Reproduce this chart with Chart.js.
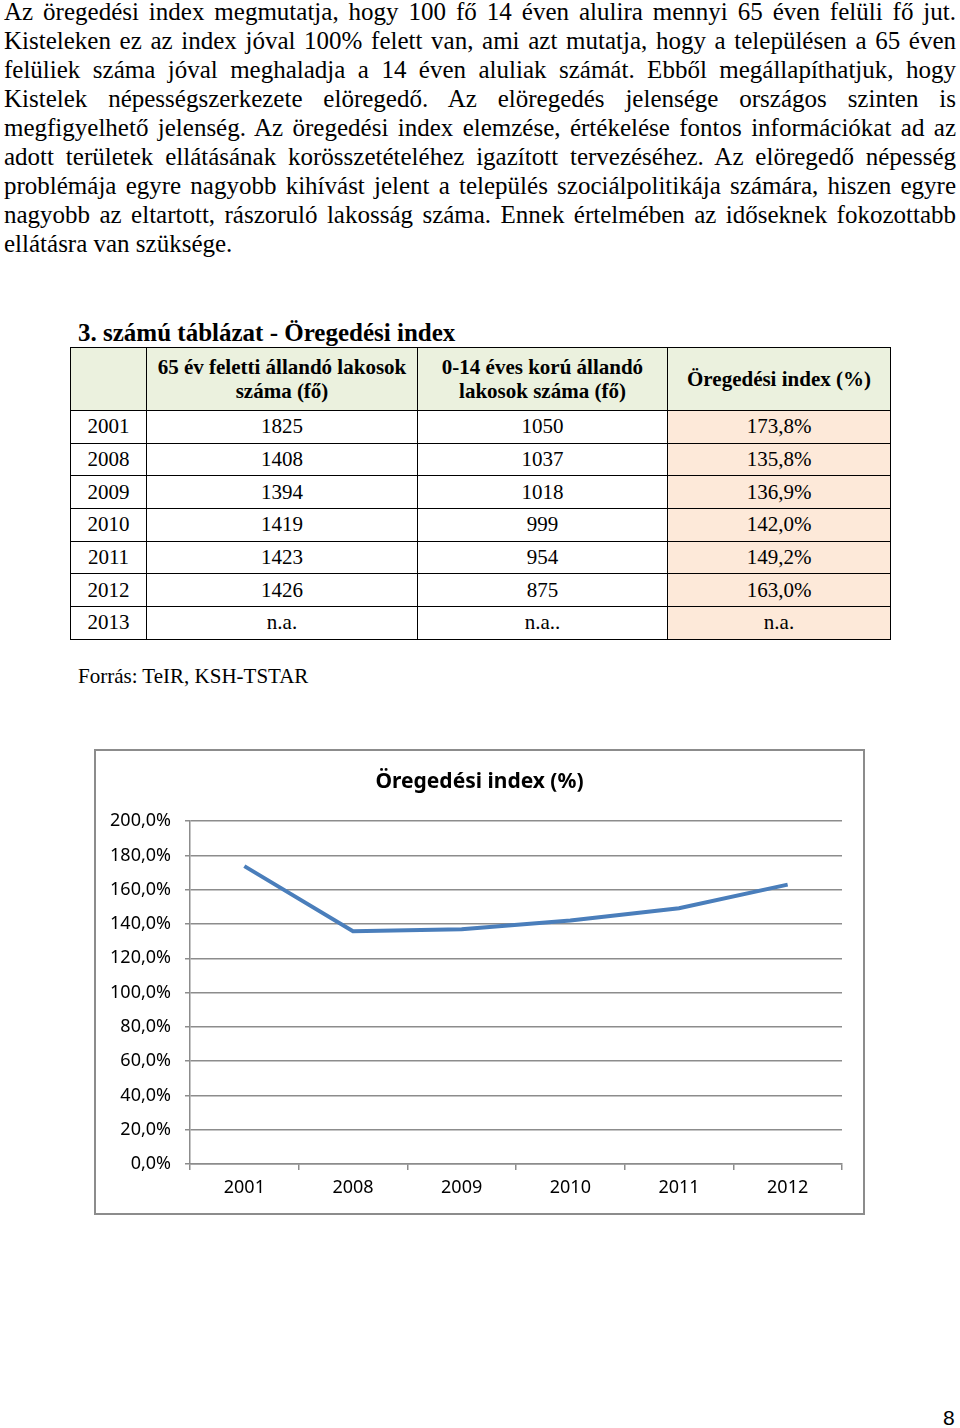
<!DOCTYPE html>
<html lang="hu">
<head>
<meta charset="utf-8">
<script src="https://cdn.jsdelivr.net/npm/chart.js@4.4.1/dist/chart.umd.min.js"></script>
<style>
  html, body { margin: 0; padding: 0; background: #fff; }
  body { width: 960px; height: 1428px; position: relative; overflow: hidden; font-family: "Liberation Serif", "Times New Roman", serif; color: #000; }
  .para { position: absolute; left: 4px; top: -3px; width: 952px; font-size: 25px; line-height: 29px; }
  .para div { text-align: justify; text-align-last: justify; }
  .para div.last { text-align-last: left; }
  .caption { position: absolute; left: 78px; top: 318px; font-size: 25px; font-weight: bold; line-height: 29px; }
  table { position: absolute; left: 70px; top: 347px; border-collapse: collapse; font-size: 21px; }
  td, th { border: 1px solid #000; text-align: center; vertical-align: middle; padding: 0; }
  th { background: #ebf1de; font-weight: bold; height: 62px; line-height: 24px; }
  td { height: 31.7px; }
  td.idx { background: #fde9d9; }
  .source { position: absolute; left: 78px; top: 662px; font-size: 21px; line-height: 28px; }
  .chartbox { position: absolute; left: 94px; top: 749px; width: 767px; height: 462px; border: 2px solid #8c8c8c; }
  .pagenum { position: absolute; left: 943px; top: 1406px; font-family: "Liberation Sans", Arial, sans-serif; font-size: 21px; }
</style>
</head>
<body>
<div class="para">
  <div>Az öregedési index megmutatja, hogy 100 fő 14 éven alulira mennyi 65 éven felüli fő jut.</div>
  <div>Kisteleken ez az index jóval 100% felett van, ami azt mutatja, hogy a településen a 65 éven</div>
  <div>felüliek száma jóval meghaladja a 14 éven aluliak számát. Ebből megállapíthatjuk, hogy</div>
  <div>Kistelek népességszerkezete elöregedő. Az elöregedés jelensége országos szinten is</div>
  <div>megfigyelhető jelenség. Az öregedési index elemzése, értékelése fontos információkat ad az</div>
  <div>adott területek ellátásának korösszetételéhez igazított tervezéséhez. Az elöregedő népesség</div>
  <div>problémája egyre nagyobb kihívást jelent a település szociálpolitikája számára, hiszen egyre</div>
  <div>nagyobb az eltartott, rászoruló lakosság száma. Ennek értelmében az időseknek fokozottabb</div>
  <div class="last">ellátásra van szüksége.</div>
</div>

<div class="caption">3. számú táblázat - Öregedési index</div>
<table id="dataTable">
  <colgroup><col style="width:76px"><col style="width:271px"><col style="width:250px"><col style="width:223px"></colgroup>
  <thead>
    <tr>
      <th></th>
      <th>65 év feletti állandó lakosok<br>száma (fő)</th>
      <th>0-14 éves korú állandó<br>lakosok száma (fő)</th>
      <th>Öregedési index (%)</th>
    </tr>
  </thead>
  <tbody></tbody>
</table>
<div class="source">Forrás: TeIR, KSH-TSTAR</div>

<div class="chartbox"><canvas id="indexChart" width="767" height="462"></canvas></div>
<div class="pagenum">8</div>

<script>
// tábla adatai
const years = ["2001", "2008", "2009", "2010", "2011", "2012", "2013"];
const over65 = ["1825", "1408", "1394", "1419", "1423", "1426", "n.a."];
const under14 = ["1050", "1037", "1018", "999", "954", "875", "n.a.."];
const indexPct = [173.8, 135.8, 136.9, 142.0, 149.2, 163.0, null];

// diagram adatai
const chartYears = ["2001", "2008", "2009", "2010", "2011", "2012"];
const chartIndex = [173.8, 135.8, 136.9, 142.0, 149.2, 163.0];
const yMin = 0, yMax = 200, yStep = 20;

const fmtPct = (v) => v.toFixed(1).replace(".", ",") + "%";

// táblázat sorai
const tbody = document.querySelector("#dataTable tbody");
years.forEach((y, i) => {
    const tr = document.createElement("tr");
    const cells = [y, over65[i], under14[i], indexPct[i] === null ? "n.a." : fmtPct(indexPct[i])];
    cells.forEach((txt, j) => {
        const td = document.createElement("td");
        td.textContent = txt;
        if (j === 3) td.className = "idx";
        tr.appendChild(td);
    });
    tbody.appendChild(tr);
});

const gridGray = "#8c8c8c";
const tickFont = { family: "'Noto Sans', sans-serif", size: 18 };

new Chart(document.getElementById("indexChart").getContext("2d"), {
    type: "line",
    data: {
        labels: chartYears,
        datasets: [{
            label: "Öregedési index (%)",
            data: chartIndex,
            borderColor: "#4a7ebb",
            borderWidth: 4,
            pointRadius: 0,
            tension: 0,
            fill: false,
        }],
    },
    options: {
        responsive: false,
        animation: false,
        plugins: {
            legend: { display: false },
            tooltip: { enabled: false },
            title: {
                display: true,
                text: "Öregedési index (%)",
                color: "#000",
                font: { family: "'Noto Sans', sans-serif", size: 21, weight: "bold" },
                padding: { top: 18, bottom: 27 },
            },
        },
        scales: {
            x: {
                offset: true,
                grid: { display: true, drawOnChartArea: false, offset: true, tickLength: 6, color: gridGray, lineWidth: 1.5 },
                border: { display: true, color: gridGray, width: 1.5 },
                ticks: { color: "#000", font: tickFont, padding: 7, maxRotation: 0 },
                afterFit: (scale) => { scale.height = 49; },
            },
            y: {
                min: yMin,
                max: yMax,
                grid: { color: gridGray, lineWidth: 1.5, tickLength: 5 },
                border: { display: true, color: gridGray, width: 1.5 },
                ticks: {
                    stepSize: yStep,
                    color: "#000",
                    font: tickFont,
                    padding: 14,
                    callback: (v) => fmtPct(v),
                },
                afterFit: (scale) => { scale.width = 94; },
            },
            // üres jobb oldali tengely: csak helyet foglal, a cím így középen marad
            yRight: {
                position: "right",
                display: true,
                grid: { display: false },
                border: { display: false },
                ticks: { display: false },
                afterFit: (scale) => { scale.width = 21; },
            },
        },
    },
});
</script>
</body>
</html>
